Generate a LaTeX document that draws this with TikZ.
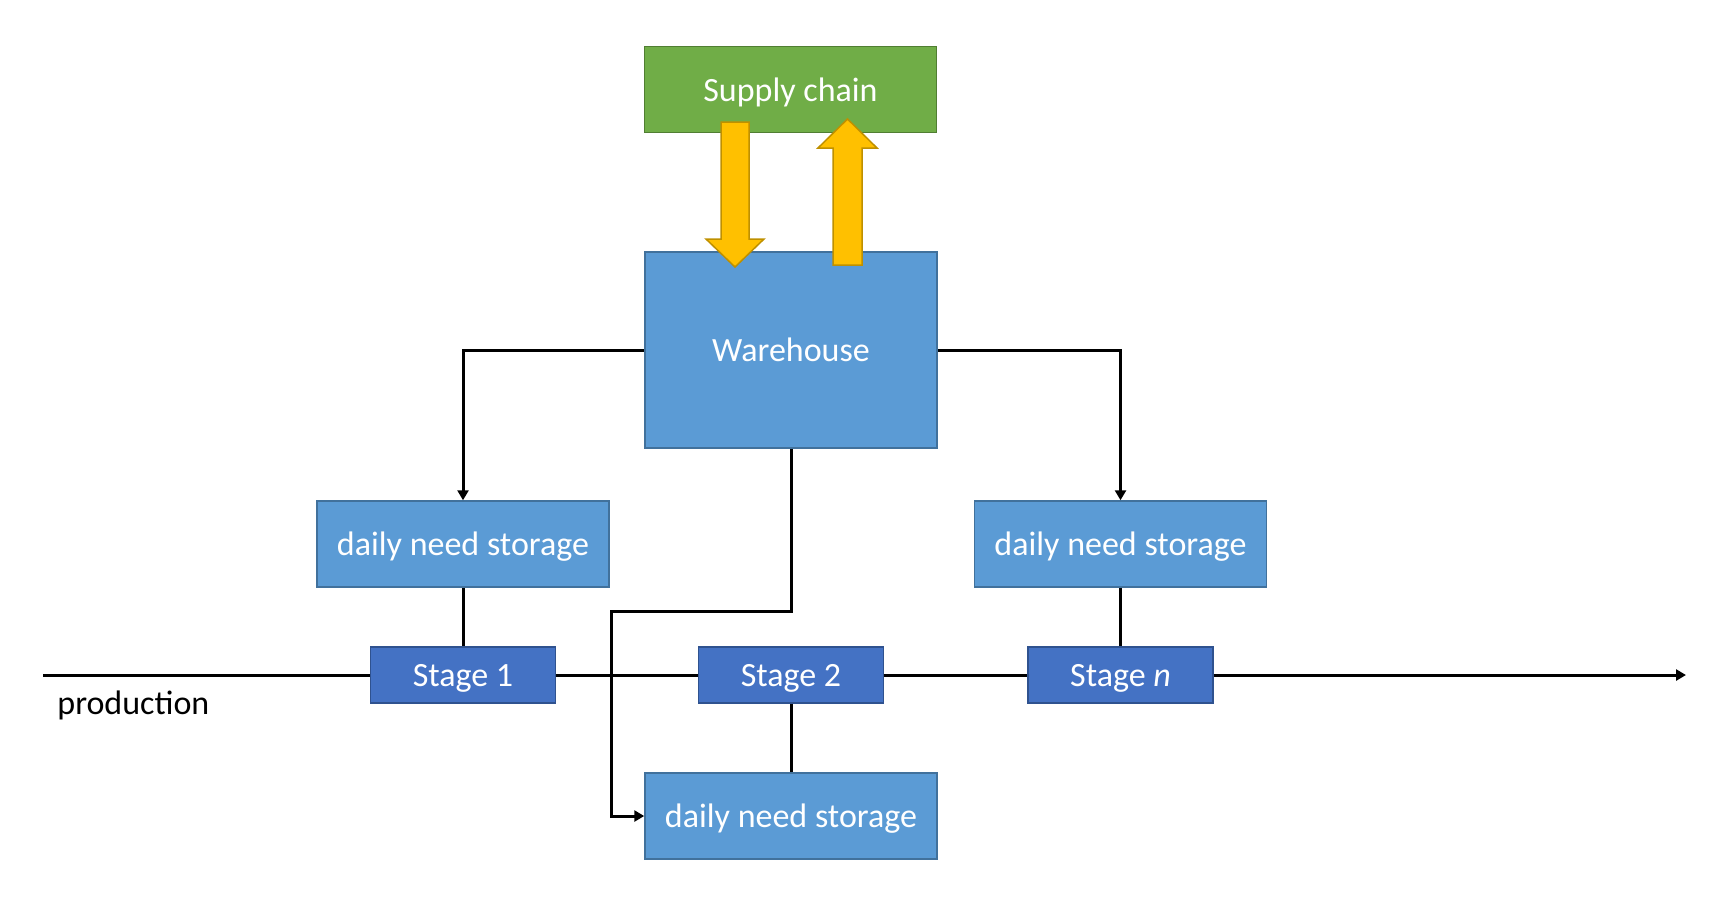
\documentclass[tikz,border=0pt]{standalone}
\usepackage{fontspec}
\setmainfont{Carlito}
\usetikzlibrary{arrows.meta}
\definecolor{chainfill}{HTML}{70AD47}
\definecolor{chainedge}{HTML}{507E32}
\definecolor{storefill}{HTML}{5B9BD5}
\definecolor{storeedge}{HTML}{41719C}
\definecolor{stagefill}{HTML}{4472C4}
\definecolor{stageedge}{HTML}{2F528F}
\definecolor{flowfill}{HTML}{FFC000}
\definecolor{flowedge}{HTML}{BF9000}
\begin{document}
\begin{tikzpicture}[x=0.5pt,y=-0.5pt,
    box/.style={draw=storeedge,fill=storefill,line width=0.75pt,text=white,inner sep=0pt,
      text depth=0pt,font=\fontsize{17}{20}\selectfont,minimum width=146pt,minimum height=43pt},
    stagebox/.style={box,draw=stageedge,fill=stagefill,minimum width=92.5pt,minimum height=28pt},
    flow/.style={fill=flowfill,draw=flowedge,line width=0.75pt,line join=miter}]
  \useasboundingbox (0,0) rectangle (1714,918);
  \path
    (790.5,89.5) node[box,draw=chainedge,fill=chainfill] (sc){Supply chain}
    (791,350) node[box,minimum height=98pt] (wh){Warehouse}
    (463,544) node[box] (d1){daily need storage}
    (1120.5,544) node[box] (dn){daily need storage}
    (791,816) node[box] (d2){daily need storage}
    (463,675) node[stagebox] (s1){Stage 1}
    (791,675) node[stagebox] (s2){Stage 2}
    (1120.5,675) node[stagebox] (sn){Stage \textit{n}}
    (57,714) node[anchor=base west,inner sep=0pt,font=\fontsize{17}{20}\selectfont] (prod){production};
  \coordinate (start) at (43,675);
  \coordinate (end) at (1686,675);
  \coordinate (bend) at (611,611);
  \begin{scope}[line width=1.5pt,-{Triangle[width=5.5pt,length=5pt]}]
    \draw (wh.west) -| (d1.north);
    \draw (wh.east) -| (dn.north);
    \draw (wh.south) |- (bend) |- (d2.west);
    \draw (start) -- (s1) -- (s2) -- (sn) -- (end);
  \end{scope}
  \begin{scope}[line width=1.5pt]
    \draw (d1) -- (s1);
    \draw (s2) -- (d2);
    \draw (dn) -- (sn);
  \end{scope}
  \draw[flow] (721,122) -- (749,122) -- (749,239) -- (764,239) -- (735,267)
    -- (706,239) -- (721,239) -- cycle;
  \draw[flow] (833,265) -- (862,265) -- (862,148) -- (877,148) -- (847.5,119)
    -- (818,148) -- (833,148) -- cycle;
\end{tikzpicture}
\end{document}
